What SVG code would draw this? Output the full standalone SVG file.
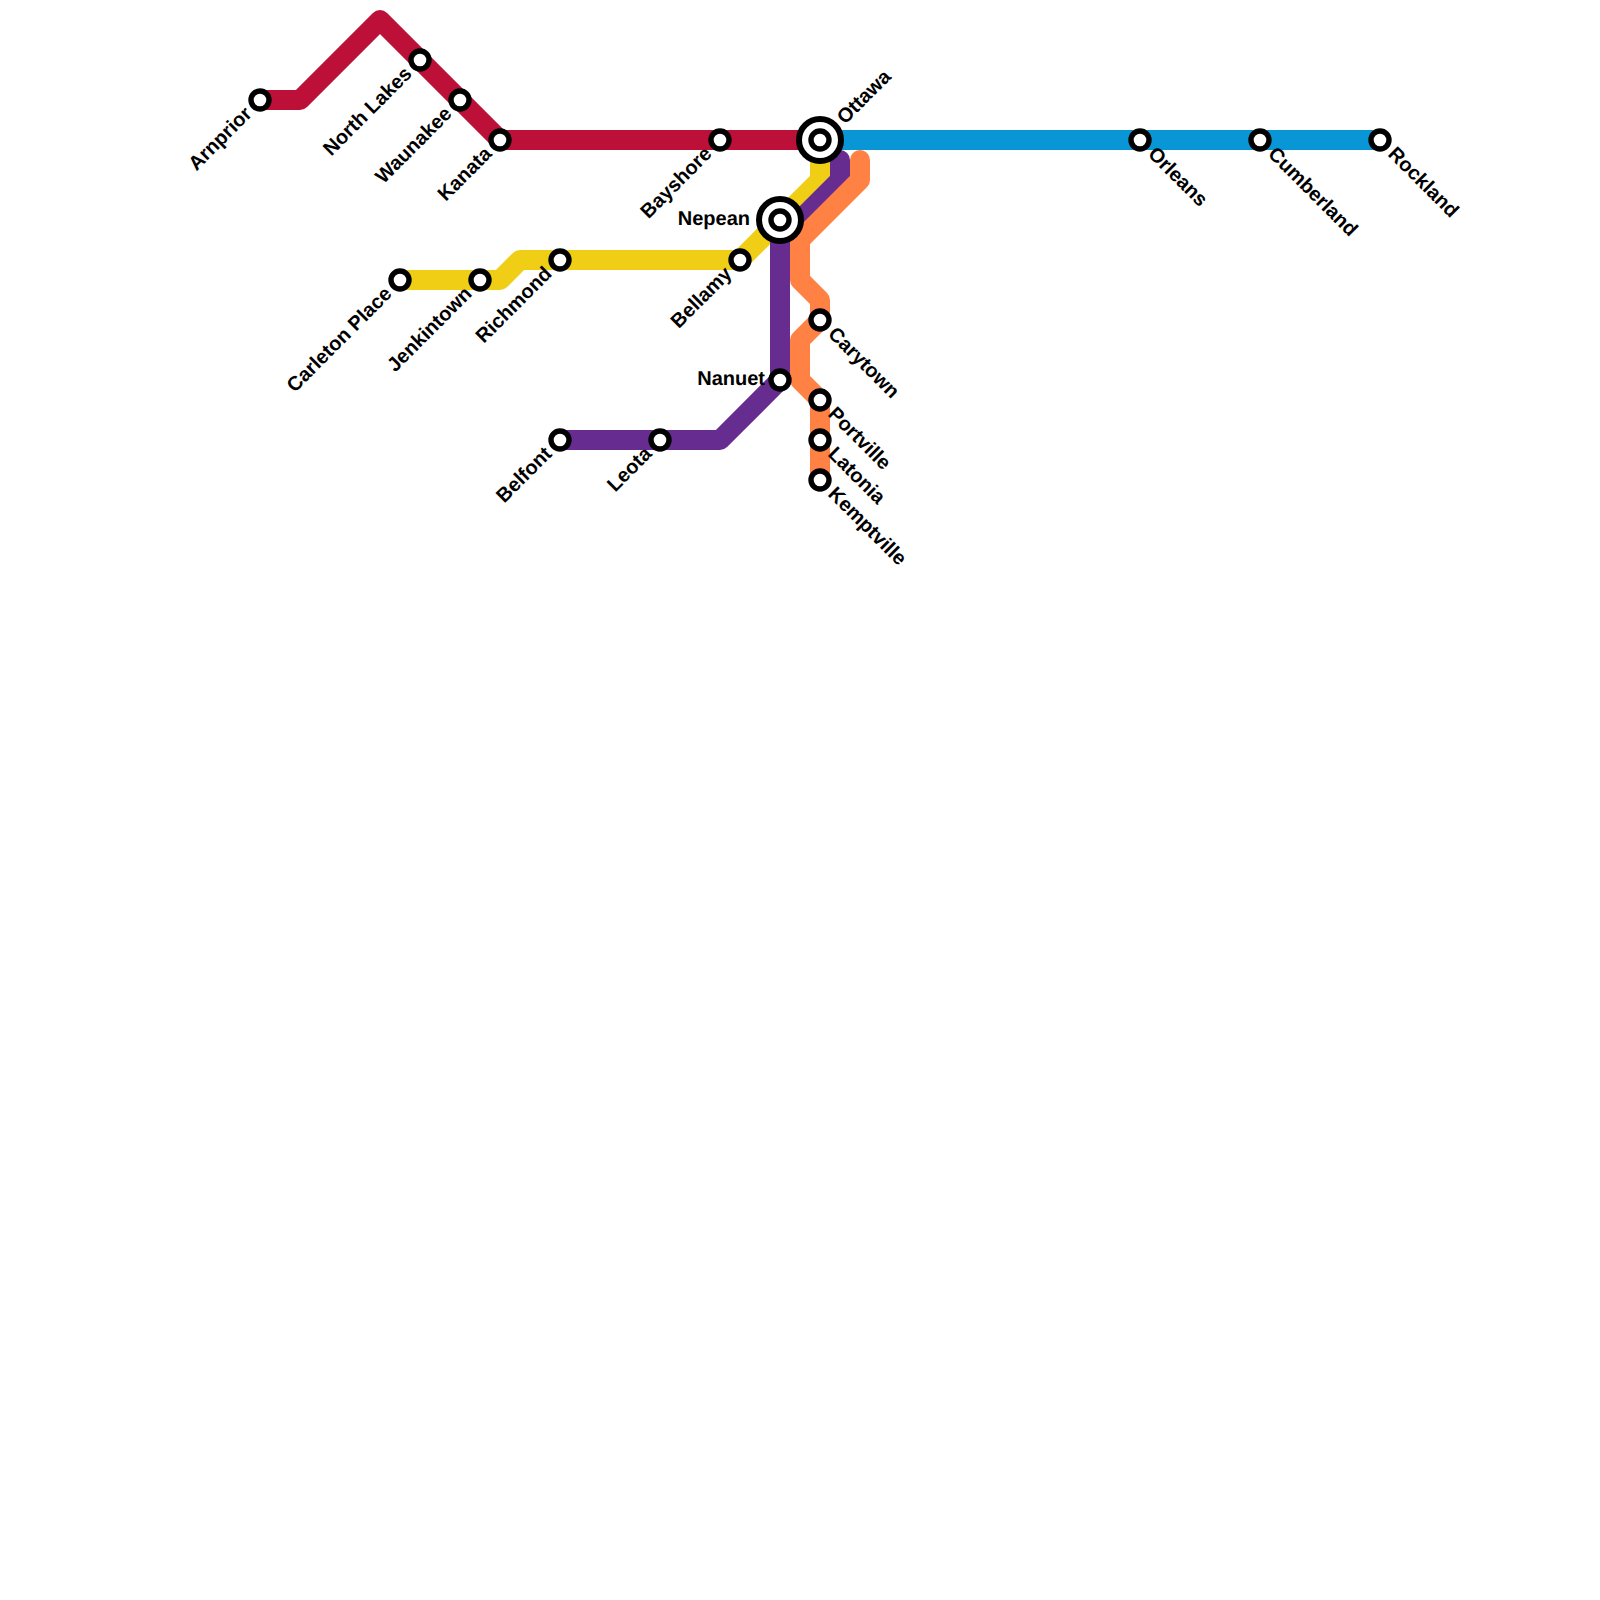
<svg xmlns="http://www.w3.org/2000/svg" width="1600" height="1600" viewBox="0 0 1600 1600">
<style>
.line{fill:none;stroke-width:20;stroke-linecap:round;stroke-linejoin:round}
.st{fill:#fff;stroke:#000;stroke-width:5.4}
.ring{fill:#fff;stroke:#000;stroke-width:6}
text{font-family:"Liberation Sans",Arial,sans-serif;font-weight:700;font-size:20px;fill:#000;text-rendering:geometricPrecision}
.e{text-anchor:end}
</style>
<rect width="1600" height="1600" fill="#fff"/>
<g id="connectors">
<path class="line" stroke="#f0ce15" d="M400 280H500L520 260H740L820 180V140"/>
<path class="line" stroke="#662c90" d="M560 440H720L780 380V240L840 180V160"/>
<path class="line" stroke="#ff8144" d="M860 160V180L800 240V280L820 300V320L800 340V380L820 400V480"/>
<path class="line" stroke="#bd1038" d="M260 100H300L380 20L500 140H820"/>
<path class="line" stroke="#0896d7" d="M820 140H1380"/>
</g>
<g id="arnprior"><circle class="st" cx="260" cy="100" r="9"/><text class="e" transform="translate(248 110) rotate(-45)" x="0" y="7">Arnprior</text></g>
<g id="north-lakes"><circle class="st" cx="420" cy="60" r="9"/><text class="e" transform="translate(408 70) rotate(-45)" x="0" y="7">North Lakes</text></g>
<g id="waunakee"><circle class="st" cx="460" cy="100" r="9"/><text class="e" transform="translate(448 110) rotate(-45)" x="0" y="7">Waunakee</text></g>
<g id="kanata"><circle class="st" cx="500" cy="140" r="9"/><text class="e" transform="translate(488 150) rotate(-45)" x="0" y="7">Kanata</text></g>
<g id="bayshore"><circle class="st" cx="720" cy="140" r="9"/><text class="e" transform="translate(708 150) rotate(-45)" x="0" y="7">Bayshore</text></g>
<g id="ottawa"><circle class="ring" cx="820" cy="140" r="21"/><circle class="st" cx="820" cy="140" r="9"/><text transform="translate(840 120) rotate(-45)" x="0" y="7">Ottawa</text></g>
<g id="orleans"><circle class="st" cx="1140" cy="140" r="9"/><text transform="translate(1152 150) rotate(45)" x="0" y="7">Orleans</text></g>
<g id="cumberland"><circle class="st" cx="1260" cy="140" r="9"/><text transform="translate(1272 150) rotate(45)" x="0" y="7">Cumberland</text></g>
<g id="rockland"><circle class="st" cx="1380" cy="140" r="9"/><text transform="translate(1392 150) rotate(45)" x="0" y="7">Rockland</text></g>
<g id="nepean"><circle class="ring" cx="780" cy="220" r="21"/><circle class="st" cx="780" cy="220" r="9"/><text class="e" x="750" y="225">Nepean</text></g>
<g id="bellamy"><circle class="st" cx="740" cy="260" r="9"/><text class="e" transform="translate(728 270) rotate(-45)" x="0" y="7">Bellamy</text></g>
<g id="richmond"><circle class="st" cx="560" cy="260" r="9"/><text class="e" transform="translate(548 270) rotate(-45)" x="0" y="7">Richmond</text></g>
<g id="jenkintown"><circle class="st" cx="480" cy="280" r="9"/><text class="e" transform="translate(468 290) rotate(-45)" x="0" y="7">Jenkintown</text></g>
<g id="carleton-place"><circle class="st" cx="400" cy="280" r="9"/><text class="e" transform="translate(388 290) rotate(-45)" x="0" y="7">Carleton Place</text></g>
<g id="carytown"><circle class="st" cx="820" cy="320" r="9"/><text transform="translate(832 330) rotate(45)" x="0" y="7">Carytown</text></g>
<g id="nanuet"><circle class="st" cx="780" cy="380" r="9"/><text class="e" x="765" y="385">Nanuet</text></g>
<g id="portville"><circle class="st" cx="820" cy="400" r="9"/><text transform="translate(832 410) rotate(45)" x="0" y="7">Portville</text></g>
<g id="latonia"><circle class="st" cx="820" cy="440" r="9"/><text transform="translate(832 450) rotate(45)" x="0" y="7">Latonia</text></g>
<g id="kemptville"><circle class="st" cx="820" cy="480" r="9"/><text transform="translate(832 490) rotate(45)" x="0" y="7">Kemptville</text></g>
<g id="belfont"><circle class="st" cx="560" cy="440" r="9"/><text class="e" transform="translate(548 450) rotate(-45)" x="0" y="7">Belfont</text></g>
<g id="leota"><circle class="st" cx="660" cy="440" r="9"/><text class="e" transform="translate(648 450) rotate(-45)" x="0" y="7">Leota</text></g>
</svg>
